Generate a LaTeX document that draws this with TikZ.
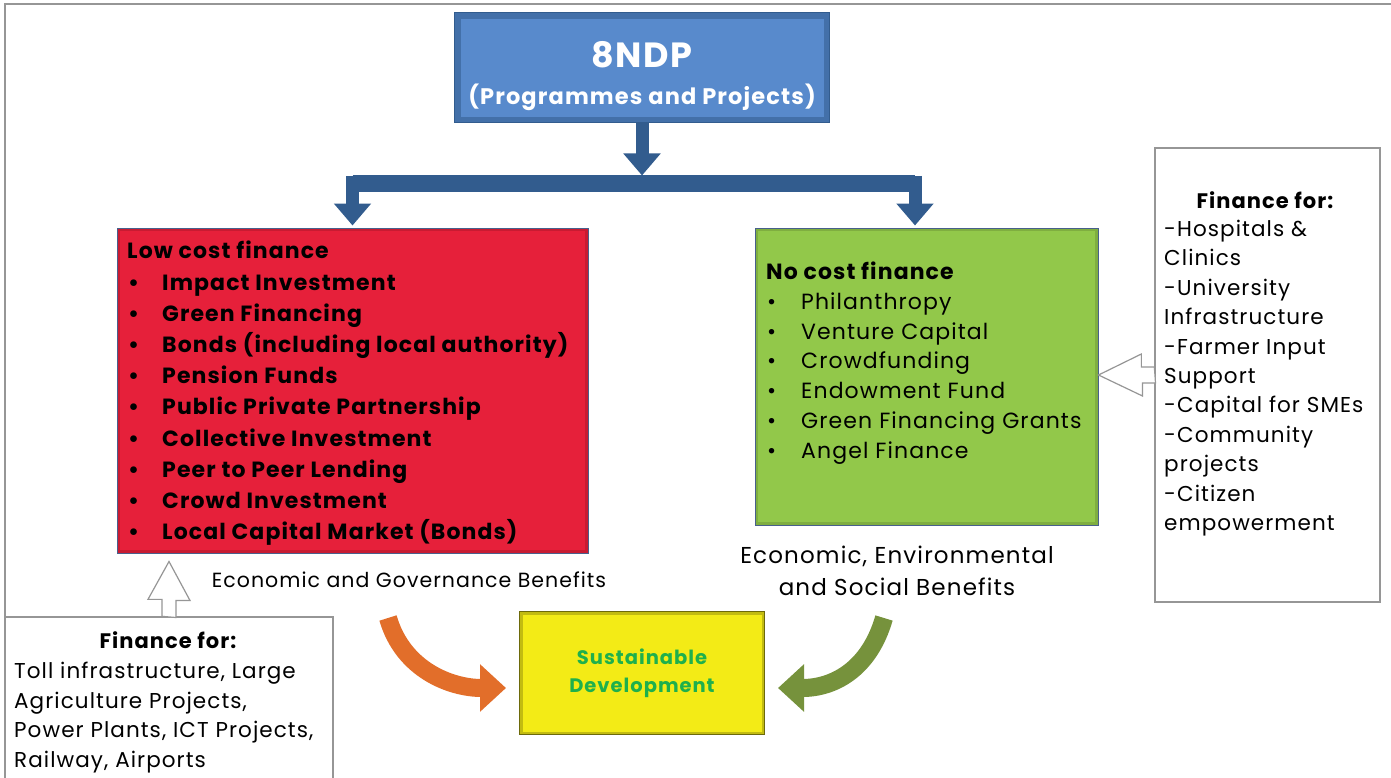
\documentclass[tikz,border=0pt]{standalone}
\usepackage{fontspec}
\setmainfont{Poppins}[LetterSpace=5]
\usepackage{tikz}
\usetikzlibrary{arrows.meta}
\usetikzlibrary{calc}

\definecolor{ndpblue}{RGB}{88,138,204}
\definecolor{barblue}{RGB}{50,92,142}
\definecolor{lowred}{RGB}{230,32,58}
\definecolor{nogreen}{RGB}{146,200,74}
\definecolor{sustyellow}{RGB}{243,235,22}
\definecolor{susttext}{RGB}{30,176,76}
\definecolor{orangearr}{RGB}{226,110,42}
\definecolor{greenarr}{RGB}{118,146,60}
\definecolor{edgegray}{RGB}{150,150,150}
\definecolor{boxedge}{RGB}{72,96,140}

\newcommand{\itembul}{\hspace*{1pt}\makebox[34pt][l]{\textbullet}}

\begin{document}
\begin{tikzpicture}[x=1pt,y=-1pt]
  \tikzstyle{ndpbox}=[draw=barblue, line width=1pt, fill=ndpblue, minimum width=375pt, minimum height=110pt,
    path picture={\draw[barblue, line width=12pt, opacity=0.55] (path picture bounding box.south west) rectangle (path picture bounding box.north east);}]
  \tikzstyle{lowbox}=[draw=boxedge, line width=1pt, fill=lowred, minimum width=471pt, minimum height=325pt,
    path picture={\draw[lowred!75!black, line width=6pt, opacity=0.5] (path picture bounding box.south west) rectangle (path picture bounding box.north east);}]
  \tikzstyle{nobox}=[draw=boxedge, line width=1pt, fill=nogreen, minimum width=343pt, minimum height=297pt,
    path picture={\draw[nogreen!75!black, line width=6pt, opacity=0.5] (path picture bounding box.south west) rectangle (path picture bounding box.north east);}]
  \tikzstyle{sustbox}=[draw=sustyellow!45!black, line width=1pt, fill=sustyellow, minimum width=245pt, minimum height=123pt,
    text=susttext, align=center, font=\bfseries\fontsize{19.5}{28}\selectfont,
    path picture={\draw[sustyellow!60!black, line width=6pt, opacity=0.5] (path picture bounding box.south west) rectangle (path picture bounding box.north east);}]
  \tikzstyle{finbox}=[draw=edgegray, line width=1.3pt, fill=white]
  \tikzstyle{listtext}=[inner sep=0pt, align=left, anchor=north west]
  \tikzstyle{blueconn}=[draw=barblue, line width=13pt, -{Triangle[width=36pt,length=22pt]}]
  \tikzstyle{hollowarr}=[draw=edgegray, line width=1.2pt, fill=white, line join=miter]
  \tikzstyle{curvearr}=[line width=18pt, -{Triangle[width=46pt,length=26pt]}]

  \useasboundingbox[fill=white] (0,0) rectangle (1391,778);
  \draw[edgegray, line width=1.5pt] (5,778) -- (5,4) -- (1391,4);

  \node[ndpbox] (ndp) at (642,68) {};
  \node[text=white, font=\bfseries\fontsize{35}{35}\selectfont] (ndptitle) at (642,55) {8NDP};
  \node[text=white, font=\bfseries\fontsize{22.5}{22.5}\selectfont] (ndpsub) at (642,97) {(Programmes and Projects)};

  \node[lowbox] (lowcost) at (352.5,390.5) {};
  \node[listtext, font=\bfseries\fontsize{22}{31.2}\selectfont] (lowlist) at (127,241) {Low cost finance\\
    \itembul Impact Investment\\ \itembul Green Financing\\ \itembul Bonds (including local authority)\\
    \itembul Pension Funds\\ \itembul Public Private Partnership\\ \itembul Collective Investment\\
    \itembul Peer to Peer Lending\\ \itembul Crowd Investment\\ \itembul Local Capital Market (Bonds)};

  \node[nobox] (nocost) at (926.5,376.5) {};
  \node[listtext, font=\fontsize{22}{29.7}\selectfont] (nolist) at (766,262) {\textbf{No cost finance}\\
    \itembul Philanthropy\\ \itembul Venture Capital\\ \itembul Crowdfunding\\
    \itembul Endowment Fund\\ \itembul Green Financing Grants\\ \itembul Angel Finance};

  \node[finbox, minimum width=225pt, minimum height=454pt] (rfin) at (1267.5,375) {};
  \node[font=\bfseries\fontsize{21}{21}\selectfont] (rtitle) at (1265,200) {Finance for:};
  \node[listtext, font=\fontsize{21.5}{29.4}\selectfont] (rlist) at (1164,220) {-Hospitals \&\\Clinics\\-University\\
    Infrastructure\\-Farmer Input\\Support\\-Capital for SMEs\\-Community\\projects\\-Citizen\\empowerment};

  \node[finbox, minimum width=328pt, minimum height=180pt] (lfin) at (169,707) {};
  \node[font=\bfseries\fontsize{21}{21}\selectfont] (ltitle) at (168,640) {Finance for:};
  \node[listtext, font=\fontsize{21.5}{29.5}\selectfont] (llist) at (14,662) {Toll infrastructure, Large\\
    Agriculture Projects,\\Power Plants, ICT Projects,\\Railway, Airports};

  \node[font=\fontsize{20.5}{20.5}\selectfont] (govlbl) at (409,580) {Economic and Governance Benefits};
  \node[align=center, font=\fontsize{23}{32}\selectfont] (envlbl) at (897,571) {Economic, Environmental\\and Social Benefits};
  \node[sustbox] (sust) at (642,673) {Sustainable\\Development};

  \coordinate (barl) at (lowcost.north |- 0,184);
  \coordinate (barr) at (915,184);
  \draw[barblue, line width=17pt] (barl) -- (barr);
  \draw[blueconn, shorten >=8.5pt] (ndp.south) -- (ndp.south |- barl);
  \draw[blueconn, shorten >=2pt] ($(barl)+(0,-8)$) -- (barl |- lowcost.north);
  \draw[blueconn, shorten >=2pt] ($(barr)+(0,-8)$) -- (barr |- nocost.north);

  \draw[hollowarr] (rfin.west) ++(0,-8) -- ++(-13,0) -- ++(0,-13) -- (nocost.east |- rfin.west)
    -- ++(44,21) -- ++(0,-13) -- ++(13,0) -- cycle;
  \draw[hollowarr] (lfin.north) ++(-7,0) -- ++(0,-17) -- ++(-14,0) -- ($(lfin.north |- lowcost.south)+(0,8)$)
    -- ++(21,39) -- ++(-14,0) -- ++(0,17) -- cycle;

  \coordinate (govstart) at (388,618);
  \coordinate (envstart) at (884,618);
  \draw[curvearr, orangearr] (govstart) .. controls +(15,52) and +(-55,0) .. ($(sust.west)+(-13,15)$);
  \draw[curvearr, greenarr] (envstart) .. controls +(-15,52) and +(55,0) .. ($(sust.east)+(13,15)$);
\end{tikzpicture}
\end{document}
